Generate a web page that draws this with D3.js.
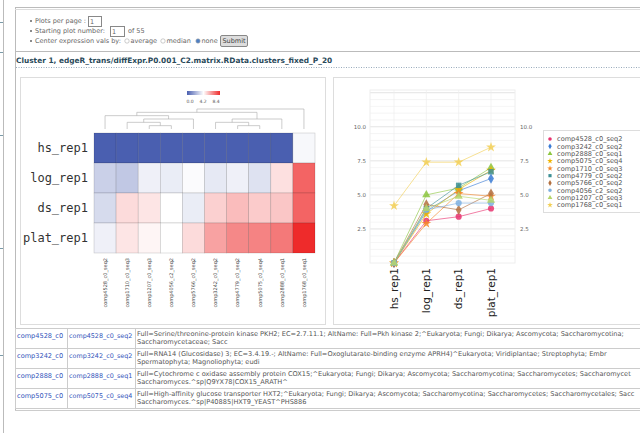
<!DOCTYPE html>
<html>
<head>
<meta charset="utf-8">
<script src="https://cdn.jsdelivr.net/npm/d3@7"></script>
<style>
  body { margin: 0; background: #fff; }
  svg { display: block; font-family: "DejaVu Sans", Verdana, sans-serif; }
</style>
</head>
<body>
<div id="page"></div>
<script>
// samples (rows of the heatmap, x categories of the line plot)
const samples = ["hs_rep1", "log_rep1", "ds_rep1", "plat_rep1"];

// transcripts, legend order
const genes = ["comp4528_c0_seq2", "comp3242_c0_seq2", "comp2888_c0_seq1", "comp5075_c0_seq4",
  "comp1710_c0_seq3", "comp4779_c0_seq2", "comp5766_c0_seq2", "comp4056_c2_seq2",
  "comp1207_c0_seq3", "comp1768_c0_seq1"];

// expression per sample (hs, log, ds, plat), same order as genes
const expr = [
  [0, 3.1, 3.4, 4.0],
  [0, 3.8, 5.3, 6.2],
  [0, 5.0, 5.5, 7.0],
  [0, 3.6, 5.4, 6.8],
  [0, 2.9, 5.1, 4.9],
  [0, 4.0, 5.7, 6.7],
  [0, 4.3, 3.9, 5.1],
  [0, 3.9, 4.4, 4.4],
  [0, 4.0, 4.9, 4.6],
  [4.2, 7.4, 7.4, 8.5]
];

// column order of the heatmap and its dendrogram
const heatOrder = ["comp4528_c0_seq2", "comp1710_c0_seq3", "comp1207_c0_seq3", "comp4056_c2_seq2",
  "comp5766_c0_seq2", "comp3242_c0_seq2", "comp4779_c0_seq2", "comp5075_c0_seq4",
  "comp2888_c0_seq1", "comp1768_c0_seq1"];
const dendro = [[["comp4528_c0_seq2", [["comp1710_c0_seq3", ["comp1207_c0_seq3", "comp4056_c2_seq2"]], "comp5766_c0_seq2"]],
  [["comp3242_c0_seq2", ["comp4779_c0_seq2", "comp5075_c0_seq4"]], "comp2888_c0_seq1"]], "comp1768_c0_seq1"];

const colorTicks = ["0.0", "4.2", "8.4"];
const yTicks = [2.5, 5, 7.5, 10];
const colors = ["#e8336f", "#3a7bd5", "#8cc63f", "#f0b400", "#f5872a", "#3d8f94", "#b3703f", "#7fb0e0", "#b4d56a", "#f2cf55"];
const shapes = [d3.symbolCircle, d3.symbolDiamond, d3.symbolTriangle, d3.symbolStar, d3.symbolStar,
  d3.symbolSquare, d3.symbolDiamond, d3.symbolCircle, d3.symbolTriangle, d3.symbolStar];

// gene table under the plots
const tableRows = [
  ["comp4528_c0", "comp4528_c0_seq2",
    "Full=Serine/threonine-protein kinase PKH2; EC=2.7.11.1; AltName: Full=Pkh kinase 2;^Eukaryota; Fungi; Dikarya; Ascomycota; Saccharomycotina;",
    "Saccharomycetaceae; Sacc"],
  ["comp3242_c0", "comp3242_c0_seq2",
    "Full=RNA14 (Glucosidase) 3; EC=3.4.19.-; AltName: Full=Oxoglutarate-binding enzyme APRH4)^Eukaryota; Viridiplantae; Streptophyta; Embr",
    "Spermatophyta; Magnoliophyta; eudi"],
  ["comp2888_c0", "comp2888_c0_seq1",
    "Full=Cytochrome c oxidase assembly protein COX15;^Eukaryota; Fungi; Dikarya; Ascomycota; Saccharomycotina; Saccharomycetes; Saccharomycet",
    "Saccharomyces.^sp|Q9YX78|COX15_ARATH^"],
  ["comp5075_c0", "comp5075_c0_seq4",
    "Full=High-affinity glucose transporter HXT2;^Eukaryota; Fungi; Dikarya; Ascomycota; Saccharomycotina; Saccharomycetes; Saccharomycetales; Sacc",
    "Saccharomyces.^sp|P40885|HXT9_YEAST^PHS886"]
];

const W = 640, H = 433;
const svg = d3.select("#page").append("svg").attr("width", W).attr("height", H);

// page frame
svg.append("line").attr("x1", 3.5).attr("x2", 3.5).attr("y1", 0).attr("y2", H).attr("stroke", "#bbb");
svg.selectAll(".tick-mark").data([22, 52, 135, 248, 355]).enter().append("line")
  .attr("x1", 0).attr("x2", 3).attr("y1", d => d + 0.5).attr("y2", d => d + 0.5).attr("stroke", "#7a9aa8");
svg.append("line").attr("x1", 15.5).attr("x2", 15.5).attr("y1", 7).attr("y2", 410).attr("stroke", "#bbb");

// form
svg.append("rect").attr("x", 15.5).attr("y", 7.5).attr("width", 640).attr("height", 44)
  .attr("fill", "none").attr("stroke", "#bbb");
svg.append("line").attr("x1", 15).attr("x2", W).attr("y1", 9.5).attr("y2", 9.5).attr("stroke", "#ddd");
const form = svg.append("g").attr("font-size", 6.5).attr("fill", "#666");
[23, 33, 43].forEach(y => form.append("circle").attr("cx", 31).attr("cy", y - 2).attr("r", 1).attr("fill", "#666"));
form.append("text").attr("x", 35).attr("y", 23).text("Plots per page :");
form.append("rect").attr("x", 88.5).attr("y", 16.5).attr("width", 13).attr("height", 10).attr("fill", "#fff").attr("stroke", "#888");
form.append("text").attr("x", 90).attr("y", 24).text("1");
form.append("text").attr("x", 35).attr("y", 33).text("Starting plot number:");
form.append("rect").attr("x", 110.5).attr("y", 26.5).attr("width", 14).attr("height", 10).attr("fill", "#fff").attr("stroke", "#888");
form.append("text").attr("x", 112).attr("y", 34).text("1");
form.append("text").attr("x", 128).attr("y", 33).text("of 55");
form.append("text").attr("x", 35).attr("y", 43).text("Center expression vals by:");
[[127, "average", false], [163, "median", false], [198, "none", true]].forEach(([x, t, on]) => {
  form.append("circle").attr("cx", x).attr("cy", 41).attr("r", 2.2)
    .attr("fill", on ? "#4d7fc4" : "#fff").attr("stroke", "#aaa").attr("stroke-width", 0.6);
  form.append("text").attr("x", x + 3.5).attr("y", 43).text(t);
});
form.append("rect").attr("x", 220.5).attr("y", 35.5).attr("width", 27).attr("height", 11).attr("rx", 1.5)
  .attr("fill", "#ddd").attr("stroke", "#888");
form.append("text").attr("x", 234).attr("y", 43).attr("text-anchor", "middle").attr("fill", "#444").text("Submit");

// title
svg.append("text").attr("x", 16).attr("y", 63).attr("font-size", 7.4).attr("font-weight", "bold")
  .attr("fill", "#2a4a5a").text("Cluster 1, edgeR_trans/diffExpr.P0.001_C2.matrix.RData.clusters_fixed_P_20");
svg.append("line").attr("x1", 16).attr("x2", W).attr("y1", 67.5).attr("y2", 67.5)
  .attr("stroke", "#9ab").attr("stroke-dasharray", "1,1.5");

// panels
svg.append("rect").attr("x", 20.5).attr("y", 77.5).attr("width", 305).attr("height", 247)
  .attr("fill", "#fff").attr("stroke", "#ddd");
svg.append("rect").attr("x", 333.5).attr("y", 77.5).attr("width", 320).attr("height", 247)
  .attr("fill", "#fff").attr("stroke", "#ddd");

// ---------- heatmap ----------
const valueOf = (g, s) => expr[genes.indexOf(g)][samples.indexOf(s)];
const hx = d3.scaleBand().domain(heatOrder).range([94, 315]);
const hy = d3.scaleBand().domain(samples).range([133, 253]);
const heatColor = d3.scaleLinear().domain([0, 4.4, 8.5]).range(["#4a5fb0", "#ffffff", "#ee2b2b"]);

const cells = [];
samples.forEach(s => heatOrder.forEach(g => cells.push({ s, g, v: valueOf(g, s) })));
const heat = svg.append("g");
heat.selectAll("rect").data(cells).enter().append("rect")
  .attr("x", d => hx(d.g)).attr("y", d => hy(d.s))
  .attr("width", hx.bandwidth()).attr("height", hy.bandwidth())
  .attr("fill", d => heatColor(d.v)).attr("stroke", "rgba(0,0,0,0.2)").attr("stroke-width", 0.6);

heat.selectAll(".rowlab").data(samples).enter().append("text")
  .attr("x", 88).attr("y", d => hy(d) + hy.bandwidth() / 2).attr("dy", "0.35em")
  .attr("text-anchor", "end").attr("font-family", "'DejaVu Sans Mono', monospace")
  .attr("font-size", 12).attr("fill", "#333").text(d => d);

heat.selectAll(".collab").data(heatOrder).enter().append("text")
  .attr("transform", d => `translate(${hx(d) + hx.bandwidth() / 2},258) rotate(-90)`)
  .attr("dy", "0.35em").attr("text-anchor", "end").attr("font-size", 5).attr("fill", "#444").text(d => d);

// dendrogram
const root = d3.hierarchy(dendro, d => Array.isArray(d) ? d : null);
const dy = d3.scaleLinear().domain([0, root.height]).range([129, 109]);
root.eachAfter(n => {
  n.px = n.children ? d3.mean([n.children[0].px, n.children[n.children.length - 1].px]) : hx(n.data) + hx.bandwidth() / 2;
  n.py = dy(n.height);
});
const dend = svg.append("g").attr("stroke", "#aaa").attr("stroke-width", 0.6).attr("fill", "none");
root.descendants().filter(n => n.children).forEach(n => {
  const a = n.children[0], b = n.children[n.children.length - 1];
  dend.append("path").attr("d",
    `M${a.px},${a.py}V${n.py}H${b.px}V${b.py}`);
});

// colour key
const grad = svg.append("defs").append("linearGradient").attr("id", "key");
[0, 0.5, 1].forEach((o, i) => grad.append("stop").attr("offset", o)
  .attr("stop-color", heatColor(heatColor.domain()[i])));
svg.append("rect").attr("x", 187).attr("y", 91).attr("width", 33).attr("height", 4).attr("fill", "url(#key)");
const keyX = d3.scalePoint().domain(colorTicks).range([190, 216]);
svg.selectAll(".keylab").data(colorTicks).enter().append("text")
  .attr("x", d => keyX(d)).attr("y", 103).attr("text-anchor", "middle")
  .attr("font-size", 4.5).attr("fill", "#555").text(d => d);

// ---------- line plot ----------
const lx = d3.scalePoint().domain(samples).range([394, 491]);
const ly = d3.scaleLinear().domain([0, 12.7]).range([263, 90]);
const plot = svg.append("g");
plot.selectAll(".minor").data(d3.range(0.5, 12.7, 0.5)).enter().append("line")
  .attr("x1", 370).attr("x2", 515).attr("y1", d => ly(d)).attr("y2", d => ly(d))
  .attr("stroke", d => d % 2.5 === 0 ? "#d8d8d8" : "#f0f0f0").attr("stroke-width", 0.7);
plot.selectAll(".vgrid").data(samples).enter().append("line")
  .attr("x1", d => lx(d)).attr("x2", d => lx(d)).attr("y1", 90).attr("y2", 263)
  .attr("stroke", "#eee").attr("stroke-width", 0.7);
plot.append("rect").attr("x", 370).attr("y", 90).attr("width", 145).attr("height", 173)
  .attr("fill", "none").attr("stroke", "#eee");

plot.selectAll(".yl").data(yTicks).enter().append("text")
  .attr("x", 366).attr("y", d => ly(d)).attr("dy", "0.35em").attr("text-anchor", "end")
  .attr("font-size", 5.5).attr("fill", "#666").text(d => d.toFixed(1));
plot.selectAll(".yr").data(yTicks).enter().append("text")
  .attr("x", 520).attr("y", d => ly(d)).attr("dy", "0.35em").attr("text-anchor", "start")
  .attr("font-size", 5.5).attr("fill", "#666").text(d => d.toFixed(1));
plot.selectAll(".xl").data(samples).enter().append("text")
  .attr("transform", d => `translate(${lx(d)},268) rotate(-90)`)
  .attr("dy", "0.35em").attr("text-anchor", "end").attr("font-size", 10.5).attr("fill", "#222").text(d => d);

const line = d3.line().x((v, i) => lx(samples[i])).y(v => ly(v));
const series = plot.selectAll(".series").data(genes).enter().append("g");
series.append("path").attr("d", (g, i) => line(expr[i]))
  .attr("fill", "none").attr("stroke", (g, i) => colors[i]).attr("stroke-width", 0.9).attr("opacity", 0.7);
series.each(function (g, i) {
  d3.select(this).selectAll("path.pt").data(expr[i]).enter().append("path").attr("class", "pt")
    .attr("transform", (v, j) => `translate(${lx(samples[j])},${ly(v)})`)
    .attr("d", d3.symbol().type(shapes[i]).size(30)).attr("fill", colors[i]).attr("opacity", 0.85);
});

// legend
const lg = svg.append("g");
lg.append("rect").attr("x", 543.5).attr("y", 130.5).attr("width", 120).attr("height", 82)
  .attr("fill", "#fff").attr("stroke", "#ddd");
const ly2 = d3.scalePoint().domain(genes).range([139, 205]);
lg.selectAll(".lm").data(genes).enter().append("path")
  .attr("transform", d => `translate(550,${ly2(d)})`)
  .attr("d", (d, i) => d3.symbol().type(shapes[i]).size(10)())
  .attr("fill", (d, i) => colors[i]);
lg.selectAll(".lt").data(genes).enter().append("text")
  .attr("x", 557).attr("y", d => ly2(d)).attr("dy", "0.35em")
  .attr("font-size", 6.6).attr("fill", "#555").text(d => d);

// ---------- table ----------
const rowY = d3.scaleBand().domain(d3.range(tableRows.length)).range([328, 408]);
const colX = [15.5, 67.5, 135.5, 640];
const tb = svg.append("g");
tableRows.forEach((r, i) => {
  const y = rowY(i);
  tb.append("rect").attr("x", 15.5).attr("y", y + 0.5).attr("width", 630).attr("height", rowY.bandwidth())
    .attr("fill", "#fff").attr("stroke", "#ccc");
  [colX[1], colX[2]].forEach(x => tb.append("line").attr("x1", x).attr("x2", x)
    .attr("y1", y).attr("y2", y + rowY.bandwidth()).attr("stroke", "#ccc"));
  tb.append("text").attr("x", 17).attr("y", y + 10).attr("font-size", 6.6).attr("fill", "#3355bb").text(r[0]);
  tb.append("text").attr("x", 69).attr("y", y + 10).attr("font-size", 6.4).attr("fill", "#3355bb").text(r[1]);
  tb.append("text").attr("x", 137).attr("y", y + 8).attr("font-size", 6.6).attr("fill", "#555").text(r[2]);
  tb.append("text").attr("x", 137).attr("y", y + 16).attr("font-size", 6.6).attr("fill", "#555").text(r[3]);
});
svg.append("line").attr("x1", 15).attr("x2", W).attr("y1", 410.5).attr("y2", 410.5).attr("stroke", "#ccc");
</script>
</body>
</html>
